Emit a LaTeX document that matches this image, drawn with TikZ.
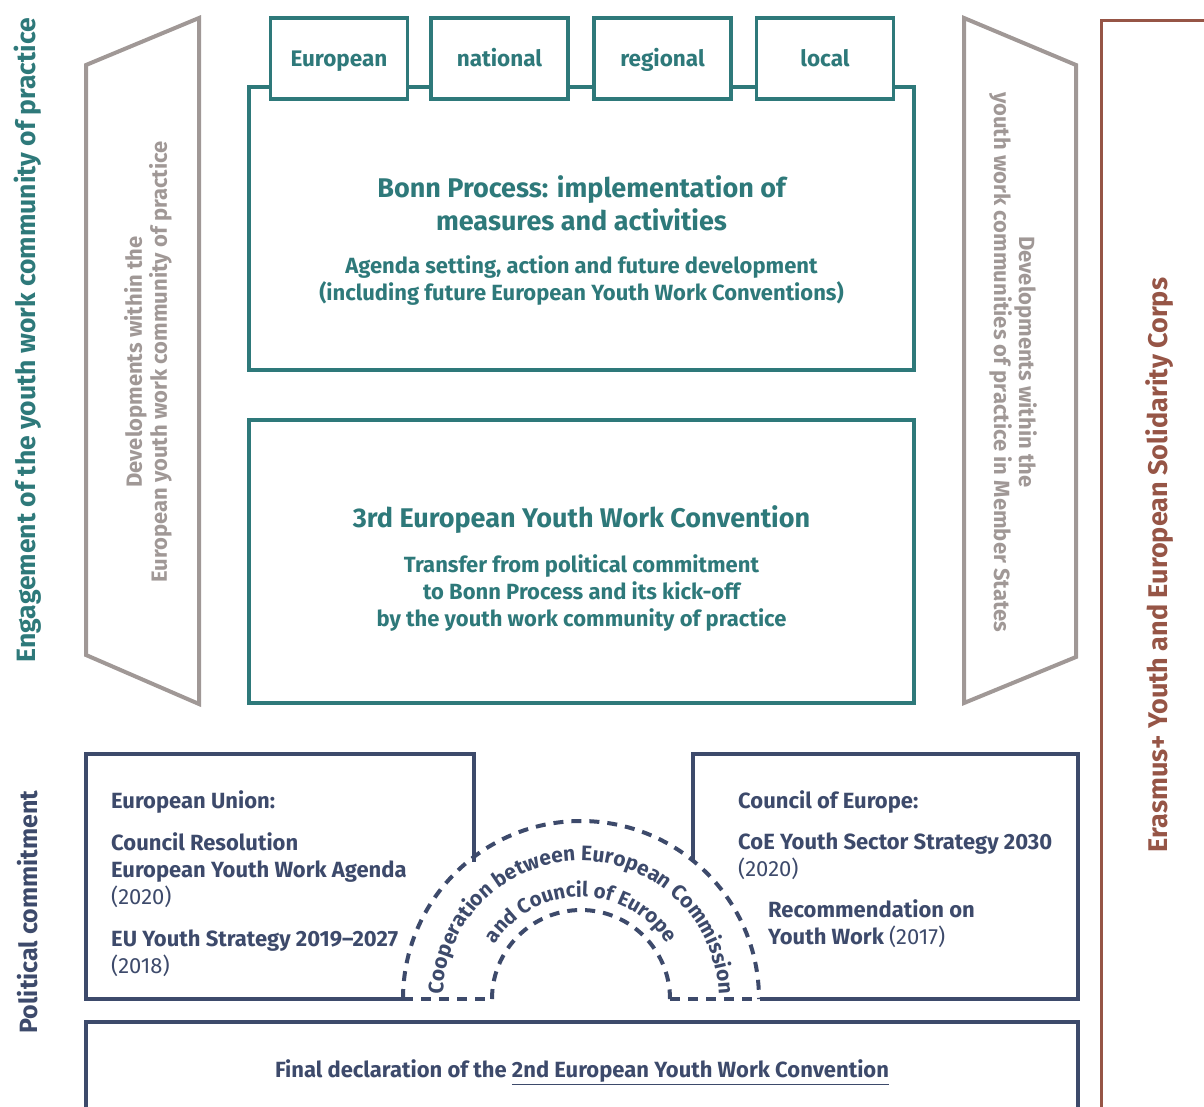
\documentclass[tikz,border=0pt]{standalone}
\usepackage{fontspec}
\setmainfont{Fira Sans}
\usetikzlibrary{decorations.text}
\definecolor{tealc}{RGB}{46,121,122}
\definecolor{navyc}{RGB}{61,74,107}
\definecolor{grayc}{RGB}{160,152,150}
\definecolor{brownc}{RGB}{150,85,70}
\tikzset{
  tealline/.style={draw=tealc, line width=3.5pt},
  navyline/.style={draw=navyc, line width=4pt},
  grayline/.style={draw=grayc, line width=4pt, line join=miter},
  brownline/.style={draw=brownc, line width=3pt},
  tab/.style={tealline, fill=white, minimum width=137pt, minimum height=81pt, text=tealc, text height=16pt, text depth=0pt, font=\bfseries\fontsize{22.5}{26}\selectfont},
  bigbox/.style={tealline, minimum width=665pt, minimum height=283pt},
  ttitle/.style={text=tealc, font=\bfseries\fontsize{27}{33}\selectfont, align=center, inner sep=0pt},
  tsub/.style={text=tealc, font=\bfseries\fontsize{22}{27}\selectfont, align=center, inner sep=0pt},
  gtxt/.style={text=grayc, font=\bfseries\fontsize{22}{25}\selectfont, align=center, inner sep=0pt},
  ntxt/.style={text=navyc, font=\bfseries\fontsize{22}{27}\selectfont, align=left, inner sep=0pt, anchor=west},
  sidetxt/.style={inner sep=0pt, rotate=90},
  dashline/.style={draw=navyc, line width=4pt, dash pattern=on 10pt off 8pt}
}
\begin{document}
\begin{tikzpicture}[x=1pt,y=-1pt]
\useasboundingbox (0,0) rectangle (1204,1106);
% side titles
\node[sidetxt, text=tealc, font=\bfseries\fontsize{26.5}{30}\selectfont] (eng) at (28,340) {Engagement of the youth work community of practice};
\node[sidetxt, text=navyc, font=\bfseries\fontsize{25}{30}\selectfont] (pol) at (28,912) {Political commitment};
\node[sidetxt, text=brownc, font=\bfseries\fontsize{27}{30}\selectfont] (eras) at (1160,565) {Erasmus+ Youth and European Solidarity Corps};
% Erasmus bracket
\coordinate (brA) at (1204,20);
\coordinate (brB) at (1101,20);
\coordinate (brC) at (1101,1110);
\draw[brownline] (brA) -- (brB) -- (brC);
% gray trapezoids
\draw[grayline] (86,65) -- (199,18) -- (199,704) -- (86,655) -- cycle;
\draw[grayline] (964,18) -- (1076,65) -- (1076,657) -- (964,703) -- cycle;
\node[gtxt, rotate=90] (devL) at (148,362) {Developments within the\\European youth work community of practice};
\node[gtxt, rotate=-90] (devR) at (1013,362) {Developments within the\\youth work communities of practice in Member States};
% Bonn box
\node[bigbox] (bonn) at (581.5,228.5) {};
\node[tab] (teu) at (339,58.5) {European};
\node[tab] (tnat) at (499.5,58.5) {national};
\node[tab] (treg) at (662.5,58.5) {regional};
\node[tab] (tloc) at (825,58.5) {local};
\node[ttitle] (bonnT) at (581.5,203.5) {Bonn Process: implementation of\\measures and activities};
\node[tsub] (bonnS) at (581.5,281) {Agenda setting, action and future development\\(including future European Youth Work Conventions)};
% 3rd convention
\node[bigbox] (third) at (581.5,561.5) {};
\node[ttitle] (thirdT) at (581.5,520) {3rd European Youth Work Convention};
\node[tsub] (thirdS) at (581.5,593) {Transfer from political commitment\\to Bonn Process and its kick-off\\by the youth work community of practice};
% political boxes
\draw[navyline] (403,999) -- (86,999) -- (86,754) -- (474,754) -- (474,862);
\draw[navyline] (760,999) -- (1078,999) -- (1078,754) -- (693,754) -- (693,862);
\draw[dashline] (403,999) arc[start angle=180, end angle=360, radius=178];
\draw[dashline] (492,999) arc[start angle=180, end angle=360, radius=89];
\draw[dashline] (403,999) -- (492,999);
\draw[dashline] (670,999) -- (759,999);
\path[decorate, decoration={text along path, text align=center,
  text={|\color{navyc}\bfseries\fontsize{21}{24}\selectfont|Cooperation between European Commission}}]
  (581,999) ++(-200:138) arc[start angle=-200, end angle=20, radius=138];
\path[decorate, decoration={text along path, text align=center,
  text={|\color{navyc}\bfseries\fontsize{20.5}{24}\selectfont|and Council of Europe}}]
  (581,999) ++(-200:102) arc[start angle=-200, end angle=20, radius=102];
\node[ntxt] (eu1) at (111,802) {European Union:};
\node[ntxt] (eu2) at (111,870) {Council Resolution\\European Youth Work Agenda\\\mdseries(2020)};
\node[ntxt] (eu3) at (111,953) {EU Youth Strategy 2019–2027\\\mdseries(2018)};
\node[ntxt] (coe1) at (738,802) {Council of Europe:};
\node[ntxt] (coe2) at (738,856) {CoE Youth Sector Strategy 2030\\\mdseries(2020)};
\node[ntxt] (coe3) at (768,923.5) {Recommendation on\\Youth Work {\mdseries(2017)}};
% final declaration
\draw[navyline] (86,1112) -- (86,1022) -- (1078,1022) -- (1078,1112);
\node[text=navyc, font=\bfseries\fontsize{22}{26}\selectfont, inner sep=0pt] (fin) at (582,1072) {Final declaration of the \underline{2nd European Youth Work Convention}};
\end{tikzpicture}
\end{document}
